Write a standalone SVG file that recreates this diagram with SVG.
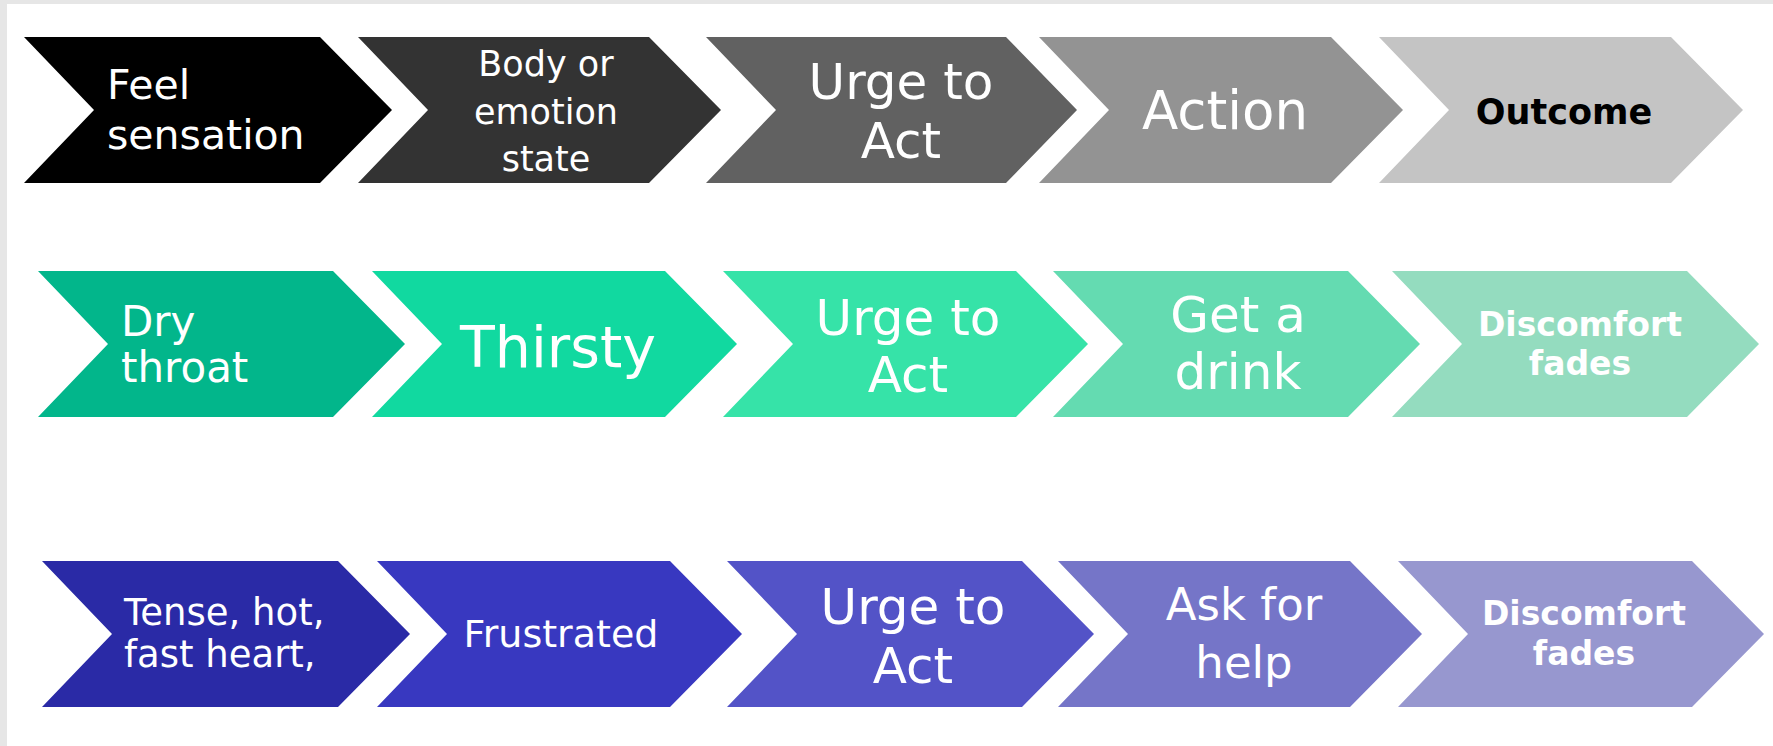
<svg xmlns="http://www.w3.org/2000/svg" width="1773" height="746" viewBox="0 0 1773 746">
  <style>
    .lbl { font-family: "DejaVu Sans", "Liberation Sans", sans-serif; fill: #ffffff; }
    .mid { text-anchor: middle; }
    .bold { font-weight: bold; }
    .dark { fill: #000000; }
  </style>
  <!-- page -->
  <rect x="0" y="0" width="1773" height="746" fill="#ffffff"/>
  <rect x="0" y="0" width="1773" height="4" fill="#e6e6e6"/>
  <rect x="0" y="0" width="7" height="746" fill="#e6e6e6"/>

  <!-- row 1: generic sequence (greys) -->
  <g id="r1-sensation">
    <polygon points="24,37 320,37 392,110 320,183 24,183 94,110" fill="#000000"/>
    <text class="lbl" x="107" y="99" font-size="41">Feel</text>
    <text class="lbl" x="107" y="149" font-size="41">sensation</text>
  </g>
  <g id="r1-state">
    <polygon points="358,37 649,37 721,110 649,183 358,183 428,110" fill="#333333"/>
    <text class="lbl mid" x="546" y="76" font-size="35">Body or</text>
    <text class="lbl mid" x="546" y="124" font-size="35">emotion</text>
    <text class="lbl mid" x="546" y="171" font-size="35">state</text>
  </g>
  <g id="r1-urge">
    <polygon points="706,37 1006,37 1077,110 1006,183 706,183 776,110" fill="#616161"/>
    <text class="lbl mid" x="901" y="99" font-size="50">Urge to</text>
    <text class="lbl mid" x="901" y="158" font-size="50">Act</text>
  </g>
  <g id="r1-action">
    <polygon points="1039,37 1331,37 1403,110 1331,183 1039,183 1109,110" fill="#939393"/>
    <text class="lbl mid" x="1225" y="129" font-size="53">Action</text>
  </g>
  <g id="r1-outcome">
    <polygon points="1379,37 1671,37 1743,110 1671,183 1379,183 1449,110" fill="#c4c4c4"/>
    <text class="lbl mid bold dark" x="1564" y="124" font-size="35">Outcome</text>
  </g>

  <!-- row 2: thirst example (greens) -->
  <g id="r2-dry">
    <polygon points="38,271 333,271 405,344 333,417 38,417 108,344" fill="#02b68b"/>
    <text class="lbl" x="121" y="336" font-size="42">Dry</text>
    <text class="lbl" x="121" y="382" font-size="42">throat</text>
  </g>
  <g id="r2-thirsty">
    <polygon points="372,271 665,271 737,344 665,417 372,417 442,344" fill="#11d9a0"/>
    <text class="lbl mid" x="558" y="367" font-size="57">Thirsty</text>
  </g>
  <g id="r2-urge">
    <polygon points="723,271 1016,271 1088,344 1016,417 723,417 793,344" fill="#36e3a8"/>
    <text class="lbl mid" x="908" y="335" font-size="50">Urge to</text>
    <text class="lbl mid" x="908" y="392" font-size="50">Act</text>
  </g>
  <g id="r2-drink">
    <polygon points="1053,271 1348,271 1420,344 1348,417 1053,417 1123,344" fill="#64dbb1"/>
    <text class="lbl mid" x="1238" y="332" font-size="50">Get a</text>
    <text class="lbl mid" x="1238" y="389" font-size="50">drink</text>
  </g>
  <g id="r2-fades">
    <polygon points="1392,271 1687,271 1759,344 1687,417 1392,417 1462,344" fill="#94dcbf"/>
    <text class="lbl mid bold" x="1580" y="336" font-size="33">Discomfort</text>
    <text class="lbl mid bold" x="1580" y="375" font-size="33">fades</text>
  </g>

  <!-- row 3: frustration example (blues) -->
  <g id="r3-tense">
    <polygon points="42,561 338,561 410,634 338,707 42,707 112,634" fill="#2a2aa6"/>
    <text class="lbl" x="124" y="625" font-size="37">Tense, hot,</text>
    <text class="lbl" x="124" y="667" font-size="37">fast heart,</text>
  </g>
  <g id="r3-frustrated">
    <polygon points="377,561 670,561 742,634 670,707 377,707 447,634" fill="#3838c0"/>
    <text class="lbl mid" x="561" y="647" font-size="38">Frustrated</text>
  </g>
  <g id="r3-urge">
    <polygon points="727,561 1022,561 1094,634 1022,707 727,707 797,634" fill="#5353c7"/>
    <text class="lbl mid" x="913" y="624" font-size="50">Urge to</text>
    <text class="lbl mid" x="913" y="683" font-size="50">Act</text>
  </g>
  <g id="r3-help">
    <polygon points="1058,561 1350,561 1422,634 1350,707 1058,707 1128,634" fill="#7575c8"/>
    <text class="lbl mid" x="1244" y="620" font-size="45">Ask for</text>
    <text class="lbl mid" x="1244" y="678" font-size="45">help</text>
  </g>
  <g id="r3-fades">
    <polygon points="1398,561 1692,561 1764,634 1692,707 1398,707 1468,634" fill="#9797cf"/>
    <text class="lbl mid bold" x="1584" y="625" font-size="33">Discomfort</text>
    <text class="lbl mid bold" x="1584" y="665" font-size="33">fades</text>
  </g>

  <!-- no connectors: the chevrons abut directly -->
  <g id="connectors"/>
</svg>
